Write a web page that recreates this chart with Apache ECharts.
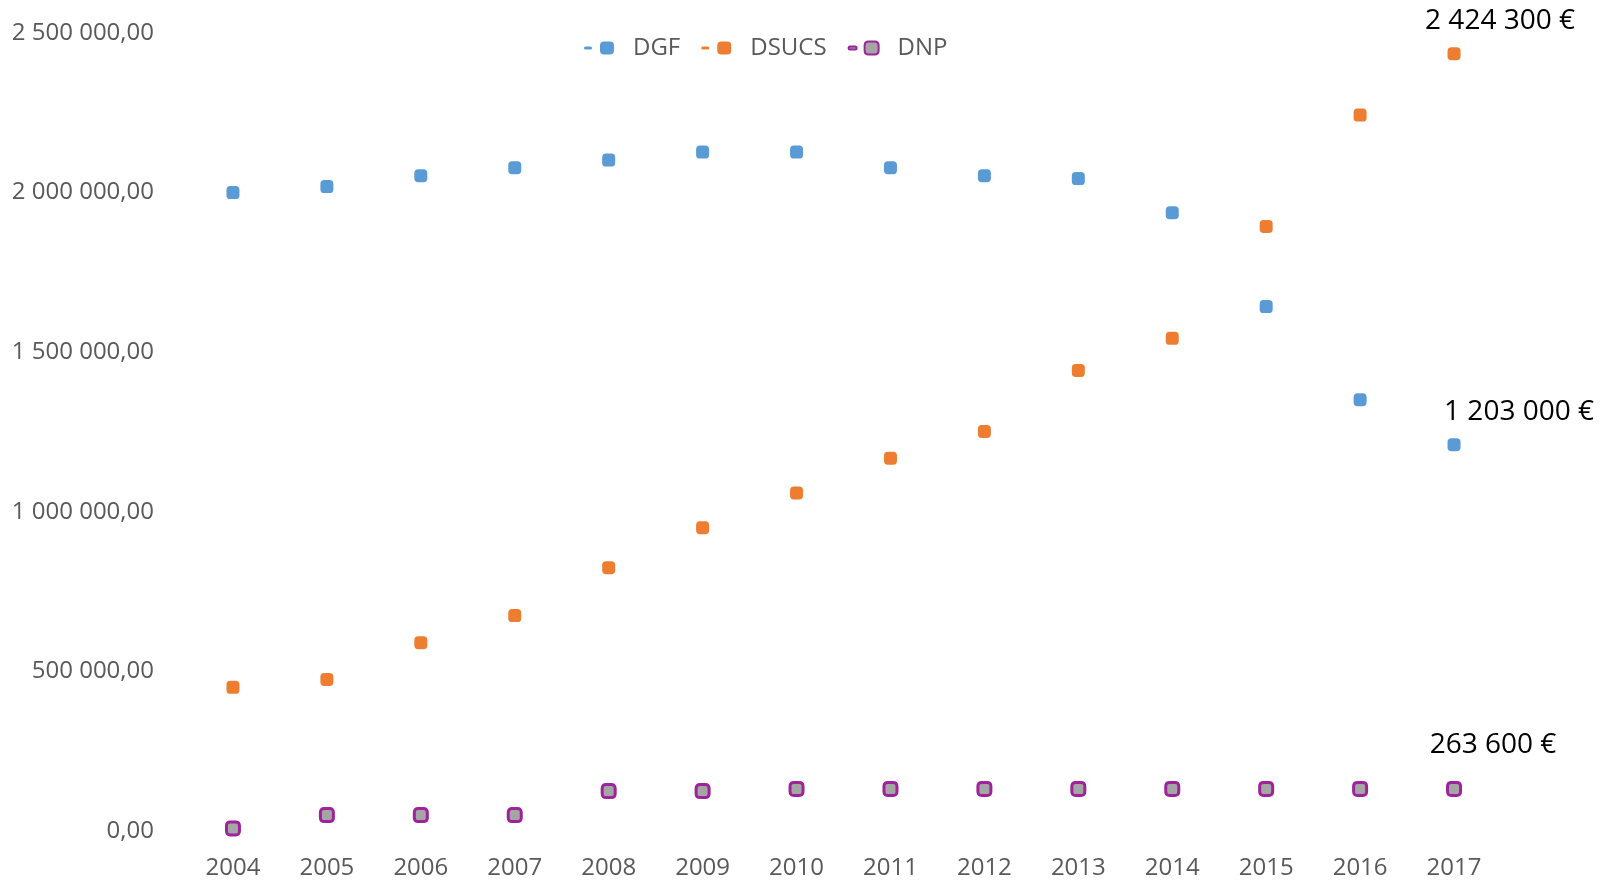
<!DOCTYPE html>
<html>
<head>
<meta charset="utf-8">
<script src="https://cdn.jsdelivr.net/npm/echarts@6/dist/echarts.min.js"></script>
<style>
html,body{margin:0;padding:0;background:#fff;}
#chart{width:1609px;height:880px;}
</style>
</head>
<body>
<div id="chart"></div>
<script>
var years = ['2004','2005','2006','2007','2008','2009','2010','2011','2012','2013','2014','2015','2016','2017'];
var dgf =   [2000000,2019000,2053000,2078000,2102000,2127000,2127000,2078000,2053000,2044000,1937000,1643000,1351000,1210000];
var dsucs = [450000,475000,590000,675000,825000,950000,1059000,1168000,1251600,1443000,1543500,1894000,2243000,2435000];
var dnp =   [8000,50000,50000,50000,125000,125000,131800,131800,131800,131800,131800,131800,131800,131800];
var seriesNames = ['DGF','DSUCS','DNP'];
var endLabels = ['1 203 000 €','2 424 300 €','263 600 €'];
var yTicks = [0,500000,1000000,1500000,2000000,2500000];

var FONT = '"Open Sans", sans-serif';
var markerPath = 'path://M3,0 H7 Q10,0 10,3 V7 Q10,10 7,10 H3 Q0,10 0,7 V3 Q0,0 3,0 Z';
var legendIcon = 'path://M1.5,5 L6.5,5 Q8,5 8,6.5 Q8,8 6.5,8 L1.5,8 Q0,8 0,6.5 Q0,5 1.5,5 Z M20,0 L26,0 Q30,0 30,4 L30,9 Q30,13 26,13 L20,13 Q16,13 16,9 L16,4 Q16,0 20,0 Z';

function fmt(v){
  var s = Math.round(v).toString().replace(/\B(?=(\d{3})+(?!\d))/g,' ');
  return s + ',00';
}

var styles = [
  {color:'#5B9BD5', border:'#5B9BD5', offset:[65,-7]},
  {color:'#ED7D31', border:'#ED7D31', offset:[46,-7]},
  {color:'#A5A5A5', border:'#9E239A', offset:[39,-17]}
];
var values = [dgf, dsucs, dnp];

var series = seriesNames.map(function(name, si){
  var st = styles[si];
  var data = values[si].map(function(v, i){
    if (i === values[si].length - 1) {
      return {value: v, label: {show: true, formatter: endLabels[si], position: 'top', offset: st.offset,
        color: '#000', fontSize: 28, fontFamily: FONT}};
    }
    return v;
  });
  return {
    name: name,
    type: 'scatter',
    symbol: markerPath,
    symbolSize: 13,
    itemStyle: {color: st.color, borderColor: st.border, borderWidth: si === 2 ? 3 : 0, opacity: 1},
    emphasis: {disabled: true},
    data: data
  };
});

var chart = echarts.init(document.getElementById('chart'));
chart.setOption({
  animation: false,
  backgroundColor: '#fff',
  textStyle: {fontFamily: FONT},
  legend: {
    left: 579, top: 31,
    itemWidth: 30, itemHeight: 13, itemGap: 21,
    icon: legendIcon,
    textStyle: {color: '#595959', fontSize: 24, fontFamily: FONT, padding: [0,0,0,14]},
    data: seriesNames
  },
  grid: {left: 186, right: 108, top: 33, bottom: 48, containLabel: false},
  xAxis: {
    type: 'category',
    data: years,
    boundaryGap: true,
    axisLine: {show: false},
    axisTick: {show: false},
    splitLine: {show: false},
    axisLabel: {color: '#595959', fontSize: 24, fontFamily: FONT, margin: 25}
  },
  yAxis: {
    type: 'value',
    min: yTicks[0], max: yTicks[yTicks.length-1], interval: yTicks[1]-yTicks[0],
    axisLine: {show: false},
    axisTick: {show: false},
    splitLine: {show: false},
    axisLabel: {color: '#595959', fontSize: 24, fontFamily: FONT, margin: 32, formatter: fmt}
  },
  series: series
});
</script>
</body>
</html>
